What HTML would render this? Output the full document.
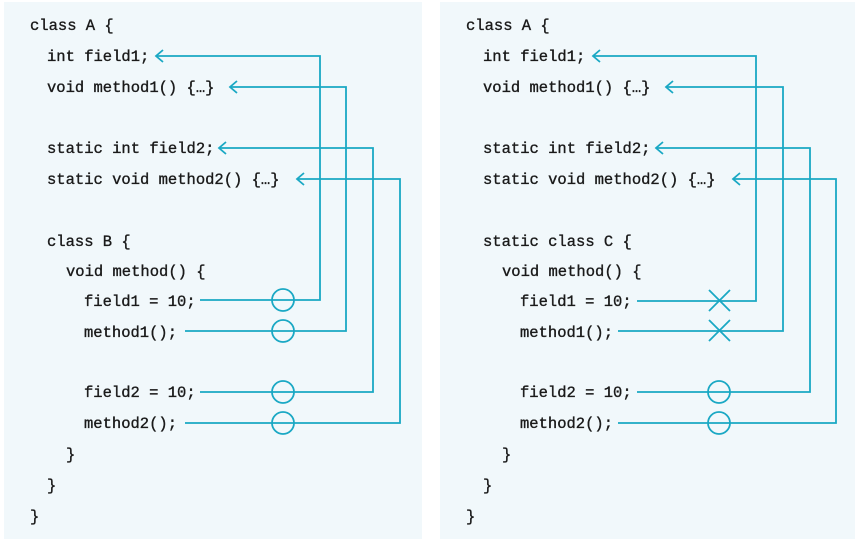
<!DOCTYPE html>
<html><head><meta charset="utf-8"><style>
html,body{margin:0;padding:0;background:#fff;}
svg{display:block;}
text{font-family:"Liberation Mono","DejaVu Sans Mono",monospace;font-size:15.5px;fill:#1a1a1a;stroke:#1a1a1a;stroke-width:0.35;}
</style></head><body>
<svg width="855" height="543" viewBox="0 0 855 543" xmlns="http://www.w3.org/2000/svg">
<rect x="4" y="2" width="418" height="537" fill="#f1f8fb"/>
<rect x="440" y="2" width="415" height="537" fill="#f1f8fb"/>
<g>
<text x="30" y="30">class A {</text>
<text x="47" y="61">int field1;</text>
<text x="47" y="92">void method1() {…}</text>
<text x="47" y="153">static int field2;</text>
<text x="47" y="184">static void method2() {…}</text>
<text x="47" y="246">class B {</text>
<text x="66" y="276">void method() {</text>
<text x="84" y="306">field1 = 10;</text>
<text x="84" y="337">method1();</text>
<text x="84" y="397">field2 = 10;</text>
<text x="84" y="428">method2();</text>
<text x="66" y="459">}</text>
<text x="47" y="490">}</text>
<text x="30" y="521">}</text>
</g>
<g>
<text x="466" y="30">class A {</text>
<text x="483" y="61">int field1;</text>
<text x="483" y="92">void method1() {…}</text>
<text x="483" y="153">static int field2;</text>
<text x="483" y="184">static void method2() {…}</text>
<text x="483" y="246">static class C {</text>
<text x="502" y="276">void method() {</text>
<text x="520" y="306">field1 = 10;</text>
<text x="520" y="337">method1();</text>
<text x="520" y="397">field2 = 10;</text>
<text x="520" y="428">method2();</text>
<text x="502" y="459">}</text>
<text x="483" y="490">}</text>
<text x="466" y="521">}</text>
</g>
<g fill="none" stroke="#1aa8c4" stroke-width="1.8">
<path d="M156 56 H320 V300 H200"/><path d="M163 50 L156 56 L163 62"/>
<path d="M230 87 H346 V331 H185"/><path d="M237 81 L230 87 L237 93"/>
<path d="M219 148 H373 V392 H200"/><path d="M226 142 L219 148 L226 154"/>
<path d="M297 179 H400 V423 H185"/><path d="M304 173 L297 179 L304 185"/>
<circle cx="283" cy="300" r="11"/><circle cx="283" cy="331" r="11"/>
<circle cx="283" cy="392" r="11"/><circle cx="283" cy="423" r="11"/>
<path d="M593 56 H756 V301 H637"/><path d="M600 50 L593 56 L600 62"/>
<path d="M666 87 H783 V331 H618"/><path d="M673 81 L666 87 L673 93"/>
<path d="M656 148 H810 V392 H637"/><path d="M663 142 L656 148 L663 154"/>
<path d="M733 179 H836 V423 H618"/><path d="M740 173 L733 179 L740 185"/>
<path d="M709 290 L730 311 M730 290 L709 311"/>
<path d="M709 320 L730 341 M730 320 L709 341"/>
<circle cx="719" cy="392" r="11"/><circle cx="719" cy="423" r="11"/>
</g>
</svg>
</body></html>
